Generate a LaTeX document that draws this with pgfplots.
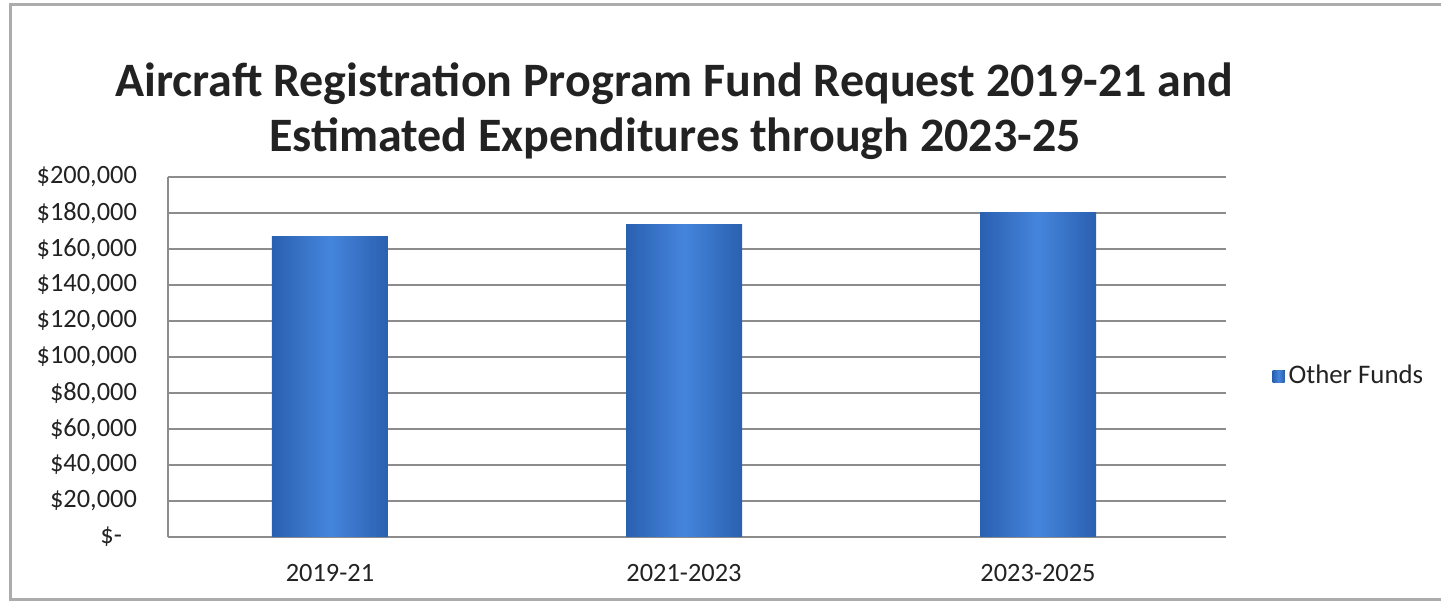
\documentclass[border=0pt]{standalone}
\usepackage{pgfplots}
\pgfplotsset{compat=1.18}
\usepackage{fontspec}
\setmainfont{Carlito}
\definecolor{barmid}{HTML}{4585DC}
\definecolor{baredge}{HTML}{2A60B0}
\definecolor{gridc}{HTML}{8C8C8C}
\definecolor{txt}{HTML}{222222}
\begin{document}
\begin{tikzpicture}
\useasboundingbox (0,0) rectangle (720.5pt,302pt);
\draw[gray!65, line width=1.5pt] (720.5pt,299.5pt) -- (5pt,299.5pt) -- (5pt,2pt) -- (720.5pt,2pt);
\node[anchor=base, font=\fontsize{24}{28}\selectfont\bfseries, text=txt] at (337pt,253.5pt) {Aircraft Registration Program Fund Request 2019-21 and};
\node[anchor=base, font=\fontsize{24}{28}\selectfont\bfseries, text=txt] at (337.5pt,226pt) {Estimated Expenditures through 2023-25};
\pgfplotsset{barsty/.style={ybar, bar width=58pt, draw=none, left color=baredge, right color=baredge, middle color=barmid,
  legend image code/.code={\fill[left color=baredge, right color=baredge, middle color=barmid] (0pt,-3pt) rectangle (6pt,3pt);}}}
\begin{axis}[
  at={(84pt,33.5pt)}, anchor=south west,
  scale only axis, width=529pt, height=180pt,
  ymin=0, ymax=200000,
  xmin=-0.4576, xmax=2.531,
  scaled y ticks=false,
  ytick={0,20000,40000,60000,80000,100000,120000,140000,160000,180000,200000},
  yticklabels={{\$-\rule{7.5pt}{0pt}},{\$20,000},{\$40,000},{\$60,000},{\$80,000},{\$100,000},{\$120,000},{\$140,000},{\$160,000},{\$180,000},{\$200,000}},
  xtick={0,1,2},
  xticklabels={2019-21,2021-2023,2023-2025},
  ymajorgrids,
  grid style={gridc, line width=0.75pt},
  axis x line*=bottom, axis y line*=left,
  axis line style={-, gridc, line width=0.75pt},
  major tick length=0pt,
  tick label style={font=\fontsize{13.2}{15}\selectfont, text=txt},
  yticklabel style={anchor=east, xshift=-12pt},
  xticklabel style={anchor=north, yshift=-10pt},
  legend style={at={(axis description cs:1.038,0.447)}, anchor=west, draw=none, fill=none, font=\fontsize{13.4}{15}\selectfont, text=txt},
]
\addplot[barsty] coordinates {(0,167200)};
\addlegendentry{Other Funds}
\addplot[barsty, forget plot] coordinates {(1,173700)};
\addplot[barsty, forget plot] coordinates {(2,180500)};
\end{axis}
\end{tikzpicture}
\end{document}
